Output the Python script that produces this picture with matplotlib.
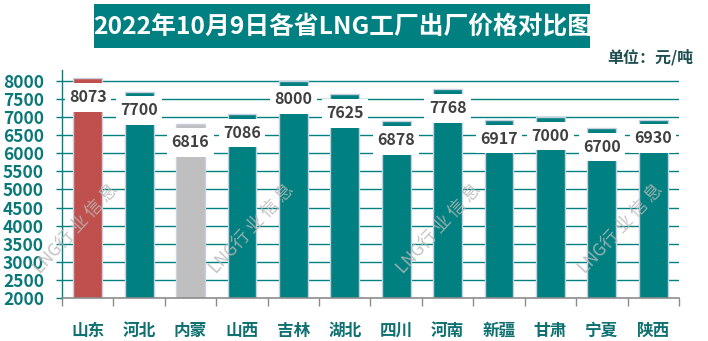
import numpy as np
import matplotlib.pyplot as plt
from matplotlib.patches import Rectangle

plt.rcParams['font.family'] = ['Noto Sans CJK SC', 'DejaVu Sans']

# 数据
provinces = ['山东', '河北', '内蒙', '山西', '吉林', '湖北', '四川', '河南', '新疆', '甘肃', '宁夏', '陕西']
prices = [8073, 7700, 6816, 7086, 8000, 7625, 6878, 7768, 6917, 7000, 6700, 6930]
yticks = list(range(2000, 8001, 500))

teal = '#008080'
colors = [teal] * len(prices)
colors[0] = '#C0504D'
colors[2] = '#BFBFBF'

fig = plt.figure(figsize=(7.08, 3.41), dpi=100)
ax = fig.add_axes([62 / 708, 1 - 298 / 341, 617 / 708, 228 / 341])

x = np.arange(len(provinces))
ax.set_xlim(-0.5, len(provinces) - 0.5)
ax.set_ylim(2000, 8300)

# 网格线
for yv in yticks[1:]:
    ax.axhline(yv, color=teal, lw=1.0, zorder=1)

ax.bar(x, prices, width=0.56, color=colors, edgecolor='#C8D0E0', linewidth=1, zorder=2)

# 标签白框
cap = 130
box_h = 790
for xi, v in zip(x, prices):
    ax.add_patch(Rectangle((xi - 0.45, v - cap - box_h), 0.9, box_h,
                           facecolor='white', edgecolor='none', zorder=3))
    ax.text(xi, v - cap - box_h / 2 + 10, str(v), ha='center', va='center',
            fontsize=11.5, fontweight='bold', color='#404040', zorder=4)

# 坐标轴
ax.set_yticks(yticks)
ax.set_yticklabels([str(t) for t in yticks], fontsize=12.5, fontweight='bold', color='#0A7878')
ax.tick_params(axis='y', colors=teal, length=4, width=1, pad=9, labelcolor='#0A7878')
ax.set_xticks(x)
ax.set_xticklabels(provinces, fontsize=12, fontweight='bold', color='#0E7070')
ax.tick_params(axis='x', which='major', length=0, pad=17)
ax.set_xticks(np.arange(-0.5, len(provinces)), minor=True)
ax.tick_params(axis='x', which='minor', length=6, width=1, color='#8C8C8C')

for s in ['top', 'right']:
    ax.spines[s].set_visible(False)
ax.spines['left'].set_color(teal)
ax.spines['left'].set_linewidth(1)
ax.spines['bottom'].set_color('#8C8C8C')
ax.spines['bottom'].set_linewidth(1.2)

# 标题
fig.patches.append(Rectangle((94 / 708, 1 - 48 / 341), 496 / 708, 44 / 341,
                             transform=fig.transFigure, facecolor=teal, edgecolor='none'))
fig.text(343 / 708, 1 - 27 / 341, '2022年10月9日各省LNG工厂出厂价格对比图', ha='center', va='center',
         fontsize=17.8, fontweight='bold', color='white')
fig.text(693 / 708, 1 - 57 / 341, '单位：元/吨', ha='right', va='center',
         fontsize=11.5, fontweight='bold', color='#1E4E50')

# 水印
for cx in [76, 252, 439, 621]:
    fig.text(cx / 708, 1 - 229 / 341, 'LNG行 业 信 息', ha='center', va='center', rotation=47,
             fontsize=12.5, fontweight='light', color='#B8B8B8', alpha=0.85, zorder=10)

fig.savefig('out.png', dpi=100)
